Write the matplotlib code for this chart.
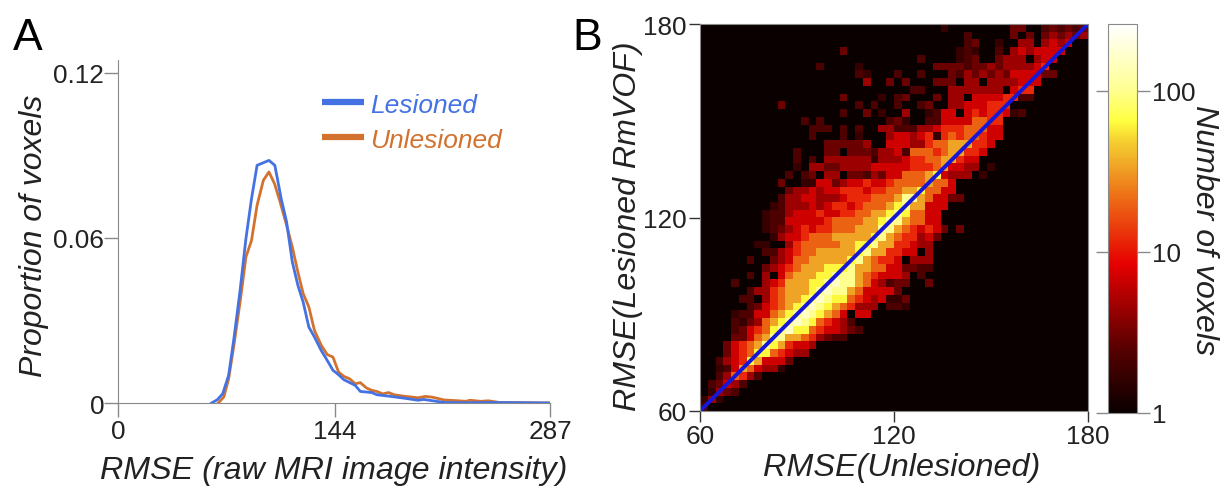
import numpy as np
import matplotlib
matplotlib.use("Agg")
import matplotlib.pyplot as plt
from matplotlib.colors import LogNorm, LinearSegmentedColormap

plt.rcParams['font.family'] = ['Liberation Sans', 'DejaVu Sans']

# panel A, curves
lesioned_x = [62.2, 66, 69.6, 73.5, 77, 81, 85, 88.7, 92.4, 100.3, 104.2, 108.4, 112, 115.8, 119.5, 123,
              126.8, 130.5, 135, 139, 142.8, 146.5, 150, 157.6, 161, 168.6, 172, 179.7, 189.5, 199.4,
              203, 216.6, 231, 248.5, 287]
lesioned_y = [0, .0012, .0034, .0101, .0234, .0404, .0598, .0743, .0864, .0882, .0864, .0743, .0658, .0513,
              .0428, .0367, .0276, .024, .0191, .0155, .0119, .0103, .0085, .0064, .0042, .0038, .003,
              .0025, .0018, .001, .0013, .0002, .0001, .0002, 0]
unlesioned_x = [66.6, 70.3, 73.5, 77, 81.4, 85, 88.7, 92.4, 96.6, 100.3, 104, 107.7, 112, 115.8, 119.5, 123,
                126.8, 130.5, 135, 139, 142.8, 146.5, 150, 153.9, 157.6, 161, 165, 168.6, 172, 176, 179.7,
                183.4, 189.5, 199.4, 204.3, 209, 216.6, 226.4, 231, 233.8, 241, 246, 253.4, 287]
unlesioned_y = [0, .0022, .0088, .021, .0379, .0531, .0591, .0719, .081, .084, .0797, .0731, .0646, .0567,
                .0476, .0398, .0349, .0264, .021, .0176, .0167, .0113, .0097, .0088, .007, .0074, .0055,
                .0046, .0042, .0033, .0038, .003, .0025, .0019, .0024, .0021, .0011, .0008, .0006, .001,
                .0006, .0008, .0002, 0]

# panel B, one string per row from the top, one character per bin, see level_counts
level_counts = {'0': 1, '1': 1.7, '2': 2.2, '3': 3, '4': 4.5, '5': 7, '6': 12, '7': 20, '8': 34, '9': 62,
                'a': 100, 'b': 160}
rows = [
    "0000000000 0000000000 0000000000 0100000000 3300232323",
    "0000000000 0000000000 0000000000 0000200000 3030343434",
    "0000000000 0000000000 0000000000 0000230010 0440454500",
    "0000000000 0000000030 0000000000 0001210020 4545555000",
    "0000000000 0000000000 0000000020 0001230034 4404550000",
    "0000000000 0000020000 1000000000 3333233434 4445600000",
    "0000000000 0000000000 2100020020 0032434343 5555330000",
    "0000000000 0000000000 0400303000 3330440444 4555000000",
    "0000000000 0000000000 0000000220 0044444440 5660000000",
    "0000000000 0000000030 0001023000 3044055556 6220000000",
    "0000000000 3000000000 2020020023 0044555666 0000000000",
    "0000000000 0000000020 0301004001 2550565665 1200000000",
    "0000000000 0002020000 0000231002 2555577660 0000000000",
    "0000000000 0000222020 2004422244 5666777550 0000000000",
    "0000000000 0000200020 1000455456 1676776550 0000000000",
    "0000000000 0000003333 3400555446 7788866500 0000000000",
    "0000000000 0020003303 3324452777 6788665000 0000000000",
    "0000000000 0020204444 4414445667 7886550000 0000000000",
    "0000000000 0010443344 4455555666 7855440100 0000000000",
    "0000000000 0202304403 3243557778 9544401000 0000000000",
    "0000000000 3001155345 5655677778 7750000000 0000000000",
    "0000000000 0344545566 6566778897 7550000000 0000000000",
    "0000000000 2445544456 667778aa87 5533000000 0000000000",
    "0000000001 2444545665 677789a885 5500000000 0000000000",
    "0000000012 2455565566 77889a9775 5000000000 0000000000",
    "0000000012 2555556777 7889aa8775 5000000000 0000000000",
    "0000000012 3456566777 888aa87656 5303000000 0000000000",
    "0000000001 4556777888 889a876645 3000000000 0000000000",
    "0000000110 0467777788 99a8866544 0000000000 0000000000",
    "0000000022 4567788888 9a88665504 0000000000 0000000000",
    "0000002003 4577888889 a876650444 0000000000 0000000000",
    "0000000034 567888999a 8877553322 0000000000 0000000000",
    "0000002040 5788899aaa 8765554020 0000000000 0000000000",
    "0000200045 688899abaa 8754233003 0000000000 0000000000",
    "0000002446 78889abaa8 7555530000 0000000000 0000000000",
    "0000022046 7889aba997 6545113000 0000000000 0000000000",
    "0000002356 789aba9876 4440221000 0000000000 0000000000",
    "0000122557 89aba98750 5500000000 0000000000 0000000000",
    "0000213478 9aba976542 0000000000 0000000000 0000000000",
    "0000235679 ab99765543 2000000000 0000000000 0000000000",
    "000033578a a887643220 0000000000 0000000000 0000000000",
    "00035678a9 8655400000 0000000000 0000000000 0000000000",
    "0003567997 6544000000 0000000000 0000000000 0000000000",
    "0024569855 5300000000 0000000000 0000000000 0000000000",
    "0012587544 1000000000 0000000000 0000000000 0000000000",
    "0024764200 0000000000 0000000000 0000000000 0000000000",
    "0235420000 0000000000 0000000000 0000000000 0000000000",
    "0143200000 0000000000 0000000000 0000000000 0000000000",
    "1410000000 0000000000 0000000000 0000000000 0000000000",
    "2000000000 0000000000 0000000000 0000000000 0000000000",
]
identity_line = [60, 180]

W, H = 1222, 489
txt = '#222222'
gray = '#8a8a8a'
blue = '#4472E2'
orange = '#D2722E'

# colours of the reference colour bar, bottom to top
bar_cmap = LinearSegmentedColormap.from_list('bar', [
    (0, '#0a0000'), (0.169, '#5a0000'), (0.383, '#e60000'), (0.571, '#ee7818'), (0.64, '#f0a828'),
    (0.70, '#f5d030'), (0.752, '#ffff40'), (0.83, '#ffff90'), (1, '#ffffff')])


def box(x0, y0, x1, y1):
    # pixel box (y from the top) to figure fractions
    return [x0 / W, 1 - y1 / H, (x1 - x0) / W, (y1 - y0) / H]


fig = plt.figure(figsize=(W / 100, H / 100), dpi=100)

# A
ax = fig.add_axes(box(118, 61, 550, 404))
ax.plot(unlesioned_x, unlesioned_y, color=orange, lw=2, label='Unlesioned', zorder=2)
ax.plot(lesioned_x, lesioned_y, color=blue, lw=2, label='Lesioned', zorder=3)
ax.set_xlim(0, 287)
ax.set_ylim(0, 0.1247)
ax.set_xticks([0, 144, 287], ['0', '144', '287'])
ax.set_yticks([0, 0.06, 0.12], ['0', '0.06', '0.12'])
ax.spines[['top', 'right']].set_visible(False)
ax.spines[['left', 'bottom']].set_color(gray)
ax.tick_params(length=10, width=1, color=gray, labelsize=18.8, labelcolor=txt, pad=1.5)
ax.tick_params(axis='y', pad=0)
ax.set_xlabel('RMSE (raw MRI image intensity)', fontsize=23.2, style='italic', color=txt, labelpad=9)
ax.set_ylabel('Proportion of voxels', fontsize=23, style='italic', color=txt, labelpad=3)
ax.yaxis.label.set_y((404 - 236) / 343)
handles, labels = ax.get_legend_handles_labels()
leg = ax.legend(handles[::-1], labels[::-1], loc='upper left', bbox_to_anchor=(204 / 432, 0.905), frameon=False,
                prop={'size': 19, 'style': 'italic'}, handlelength=1.6, handletextpad=0.22, labelspacing=0.42,
                borderpad=0, borderaxespad=0, labelcolor='linecolor')
for line in leg.get_lines():
    line.set_linewidth(4.5)
    line.set_solid_capstyle('butt')

# B
counts = np.array([[level_counts[c] for c in r.replace(' ', '')] for r in rows], dtype=float)
ax2 = fig.add_axes(box(700, 25, 1088, 412))
im = ax2.imshow(counts, cmap=bar_cmap, norm=LogNorm(1, 260), extent=[60, 180, 60, 180], origin='upper',
                aspect='auto', interpolation='nearest')
ax2.plot(identity_line, identity_line, color='#1616D8', lw=2.8, solid_capstyle='butt')
ax2.set_xlim(60, 180)
ax2.set_ylim(60, 180)
ax2.set_xticks([60, 120, 180])
ax2.set_yticks([60, 120, 180])
for s in ax2.spines.values():
    s.set_color(gray)
ax2.tick_params(length=8, width=1, color='#333333', labelsize=18.8, labelcolor=txt, pad=1.5)
ax2.set_xlabel('RMSE(Unlesioned)', fontsize=23.3, style='italic', color=txt, labelpad=3)
ax2.xaxis.label.set_x((902 - 700) / 388)
ax2.set_ylabel('RMSE(Lesioned RmVOF)', fontsize=23.1, style='italic', color=txt, labelpad=0)
ax2.yaxis.label.set_y((412 - 226) / 387)

cax = fig.add_axes(box(1108, 25, 1137, 414))
cb = fig.colorbar(im, cax=cax)
cb.set_ticks([1, 10, 100], labels=['1', '10', '100'])
cb.minorticks_off()
cb.outline.set_edgecolor(gray)
cax.yaxis.set_ticks_position('both')
cax.tick_params(length=9, width=1, color=gray, labelsize=18.8, labelcolor=txt, pad=2, labelright=True, labelleft=False)
fig.text(1204 / W, 1 - 230 / H, 'Number of voxels', rotation=270, fontsize=23.1, style='italic', color=txt,
         ha='center', va='center')

fig.text(13 / W, 1 - 50 / H, 'A', fontsize=32, color='black')
fig.text(572 / W, 1 - 50 / H, 'B', fontsize=32, color='black')

plt.savefig('out.png', dpi=100)
